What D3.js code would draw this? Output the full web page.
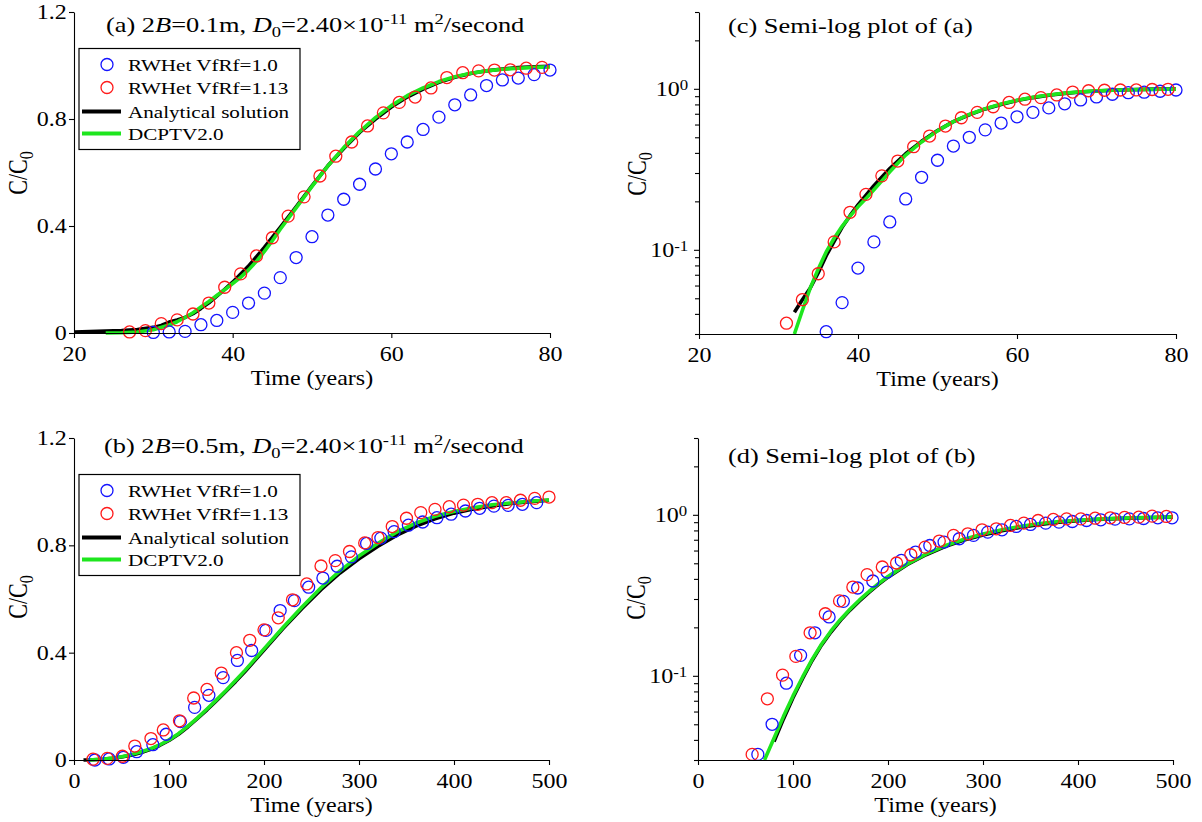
<!DOCTYPE html>
<html>
<head>
<meta charset="utf-8">
<script src="https://cdn.jsdelivr.net/npm/d3@7"></script>
<style>
  body { margin: 0; background: #fff; }
  svg { display: block; font-family: "Liberation Serif", "Times New Roman", serif; }
</style>
</head>
<body>
<svg id="chart" width="1202" height="822"></svg>
<script>
// ---- data: [time (years), C/C0] ----
var blueA = [[30,0.002],[32,0.004],[34,0.006],[36,0.031],[38,0.047],[40,0.077],[42,0.112],[44,0.149],
             [46,0.207],[48,0.282],[50,0.360],[52,0.441],[54,0.500],[56,0.556],[58,0.613],[60,0.670],
             [62,0.714],[64,0.761],[66,0.807],[68,0.853],[70,0.890],[72,0.925],[74,0.946],[76,0.953],
             [78,0.966],[80,0.983]];
var redA = [[27,0.004],[29,0.009],[31,0.035],[33,0.049],[35,0.071],[37,0.112],[39,0.171],[41,0.221],
            [43,0.288],[45,0.356],[47,0.437],[49,0.509],[51,0.587],[53,0.661],[55,0.714],[57,0.774],
            [59,0.823],[61,0.862],[63,0.882],[65,0.916],[67,0.955],[69,0.973],[71,0.980],[73,0.983],
            [75,0.984],[77,0.990],[79,0.993]];
var analyticA = [[20,0.004],[22,0.005],[24,0.007],[26,0.009],[28,0.013],[30,0.021],[31,0.028],[32,0.041],
                 [33,0.049],[34,0.058],[35,0.072],[36,0.092],[37,0.113],[38,0.138],[39,0.163],[40,0.19],
                 [42,0.25],[44,0.32],[46,0.395],[48,0.472],[50,0.55],[52,0.625],[54,0.69],[56,0.75],
                 [58,0.8],[60,0.845],[62,0.882],[64,0.912],[66,0.937],[68,0.956],[70,0.97],[72,0.98],
                 [74,0.987],[76,0.992],[78,0.995],[80,0.997]];
var dcptvA = [[24,0.0],[26,0.001],[28,0.004],[30,0.012],[32,0.03],[33,0.042],[34,0.058],[35,0.076],
              [36,0.097],[37,0.118],[38,0.14],[39,0.162],[40,0.185],[41,0.208],[42,0.236],[43,0.268],
              [44,0.305],[45,0.345],[46,0.388],[48,0.468],[50,0.548],[52,0.625],[54,0.693],[56,0.753],
              [58,0.805],[60,0.85],[62,0.887],[64,0.916],[66,0.94],[68,0.958],[70,0.971],[72,0.98],
              [74,0.986],[76,0.99],[78,0.993],[80,0.995]];

var blueB = [[22,0.0],[37,0.004],[52,0.01],[66,0.031],[83,0.057],[97,0.096],[112,0.143],[127,0.196],
             [142,0.241],[157,0.307],[172,0.371],[187,0.408],[202,0.483],[217,0.557],[232,0.594],
             [247,0.644],[262,0.678],[277,0.722],[292,0.757],[308,0.807],[323,0.827],[337,0.851],
             [352,0.875],[367,0.887],[382,0.903],[397,0.916],[412,0.928],[427,0.938],[442,0.946],
             [457,0.949],[472,0.953],[487,0.959]];
var redB = [[20,0.003],[35,0.006],[51,0.014],[64,0.052],[81,0.08],[94,0.112],[111,0.146],[126,0.231],
            [140,0.263],[155,0.324],[171,0.400],[185,0.446],[200,0.485],[215,0.530],[230,0.597],
            [245,0.656],[260,0.723],[275,0.743],[290,0.777],[306,0.809],[320,0.829],[335,0.870],
            [350,0.901],[365,0.922],[380,0.934],[395,0.944],[410,0.950],[425,0.953],[440,0.959],
            [455,0.959],[470,0.968],[485,0.975],[500,0.980]];
var analyticB = [[10,0.0],[20,0.001],[30,0.003],[40,0.006],[50,0.011],[60,0.018],[70,0.027],[80,0.039],
                 [90,0.054],[100,0.073],[110,0.096],[120,0.124],[130,0.155],[140,0.187],[150,0.221],
                 [160,0.256],[170,0.292],[180,0.33],[190,0.37],[200,0.41],[220,0.49],[240,0.565],
                 [260,0.635],[280,0.697],[300,0.75],[320,0.797],[340,0.838],[360,0.872],[380,0.899],
                 [400,0.92],[420,0.935],[440,0.947],[460,0.956],[480,0.963],[500,0.968]];
var dcptvB = [[14,0.0],[20,0.001],[30,0.003],[40,0.007],[50,0.012],[60,0.02],[70,0.03],[80,0.041],
              [90,0.056],[100,0.075],[110,0.098],[120,0.126],[130,0.157],[140,0.19],[150,0.224],
              [160,0.259],[170,0.296],[180,0.334],[190,0.374],[200,0.414],[220,0.494],[240,0.57],
              [260,0.642],[280,0.705],[300,0.76],[320,0.808],[340,0.85],[360,0.883],[380,0.908],
              [400,0.926],[420,0.94],[440,0.951],[460,0.958],[480,0.964],[500,0.969]];

// the semi-log plot (d) shows its own sampling of the RWHet runs
var blueD = [[63,0.0325],[78,0.050],[93,0.090],[108,0.134],[123,0.185],[138,0.232],[153,0.290],
             [168,0.351],[184,0.388],[199,0.441],[214,0.521],[229,0.587],[244,0.645],[259,0.677],
             [275,0.710],[290,0.745],[305,0.781],[320,0.807],[335,0.847],[350,0.871],[366,0.888],
             [380,0.901],[394,0.909],[409,0.922],[424,0.931],[439,0.940],[454,0.944],[469,0.949],
             [484,0.958],[499,0.958]];
var redD = [[57,0.0325],[73,0.072],[89,0.101],[103,0.132],[118,0.185],[134,0.243],[149,0.292],
            [163,0.356],[178,0.425],[194,0.474],[209,0.502],[224,0.565],[239,0.630],[254,0.687],
            [269,0.745],[284,0.762],[299,0.807],[314,0.819],[329,0.859],[343,0.888],[358,0.922],
            [374,0.936],[388,0.944],[403,0.944],[418,0.953],[434,0.958],[449,0.963],[464,0.967],
            [478,0.981],[493,0.977]];

var seriesNames = ["RWHet VfRf=1.0", "RWHet VfRf=1.13", "Analytical solution", "DCPTV2.0"];
var xTicksA = [20, 40, 60, 80];
var xTicksB = [0, 100, 200, 300, 400, 500];
var linTicks = [0, 0.4, 0.8, 1.2];
var logMajor = [0.1, 1];
var logMinor = [0.03, 0.04, 0.05, 0.06, 0.07, 0.08, 0.09, 0.2, 0.3, 0.4, 0.5, 0.6, 0.7, 0.8, 0.9, 2, 3];

// ---- look ----
var SX = 1.2;            // the figure's lettering is stretched horizontally
var BLUE = "#1414ff", RED = "#ff1a1a", GREEN = "#1ee61e";
var svg = d3.select("#chart");

function richText(g, x, y, size, anchor, parts) {
    var t = g.append("text")
      .attr("transform", "translate(" + x + "," + y + ") scale(" + SX + ",1)")
      .attr("text-anchor", anchor)
      .style("font-size", size + "px")
      .attr("fill", "#000");
    var shift = 0;
    parts.forEach(function(p) {
        var target = p.sub ? size * 0.22 : (p.sup ? -size * 0.38 : 0);
        var ts = t.append("tspan").attr("dy", target - shift).text(p.t);
        shift = target;
        if (p.sub || p.sup) ts.style("font-size", (size * 0.7) + "px");
        if (p.it) ts.style("font-style", "italic");
    });
    return t;
}

function titleParts(letter, width) {
    return [{t: "(" + letter + ") 2"}, {t: "B", it: 1}, {t: "=" + width + "m, "}, {t: "D", it: 1},
            {t: "0", sub: 1}, {t: "=2.40×10"}, {t: "-11", sup: 1}, {t: " m"}, {t: "2", sup: 1},
            {t: "/second"}];
}

var panels = [
    {left: 74, right: 550, top: 12, bottom: 333, xDomain: [20, 80], xTicks: xTicksA, log: false,
     blue: blueA, red: redA, black: analyticA, green: dcptvA, legend: true,
     title: titleParts("a", "0.1"), titleX: 106, titleY: 32, ylabX: 27, ylabY: 173},
    {left: 699, right: 1176, top: 12, bottom: 334, xDomain: [20, 80], xTicks: xTicksA, log: true,
     blue: blueA, red: redA, black: analyticA, green: dcptvA, legend: false,
     title: [{t: "(c) Semi-log plot of (a)"}], titleX: 728, titleY: 33, ylabX: 646, ylabY: 174},
    {left: 74, right: 549, top: 438, bottom: 760, xDomain: [0, 500], xTicks: xTicksB, log: false,
     blue: blueB, red: redB, black: analyticB, green: dcptvB, legend: true,
     title: titleParts("b", "0.5"), titleX: 104, titleY: 453, ylabX: 27, ylabY: 597},
    {left: 698, right: 1173, top: 438, bottom: 760, xDomain: [0, 500], xTicks: xTicksB, log: true,
     blue: blueD, red: redD, black: analyticB, green: dcptvB, legend: false,
     title: [{t: "(d) Semi-log plot of (b)"}], titleX: 728, titleY: 463, ylabX: 645, ylabY: 598}
];

function styleTicks(sel) {
    sel.attr("font-size", 20).attr("font-family", null).attr("fill", "#000")
       .attr("transform", "scale(" + SX + ",1)");
}

function drawPanel(p) {
    var g = svg.append("g");
    var x = d3.scaleLinear().domain(p.xDomain).range([p.left, p.right]);
    var y = p.log
        ? d3.scaleLog().domain([0.03, 3]).range([p.bottom, p.top])
        : d3.scaleLinear().domain([0, 1.2]).range([p.bottom, p.top]);
    var yMin = p.log ? 0.0299 : -1;
    var keep = function(d) { return d[1] >= yMin; };

    // curves
    var line = d3.line()
      .x(function(d) { return x(d[0]); })
      .y(function(d) { return y(d[1]); });

    g.append("path")
      .attr("d", line(p.black.filter(keep)))
      .attr("fill", "none").attr("stroke", "#000").attr("stroke-width", 3.6)
      .attr("stroke-linejoin", "round");
    g.append("path")
      .attr("d", line(p.green.filter(keep)))
      .attr("fill", "none").attr("stroke", GREEN).attr("stroke-width", 3.6)
      .attr("stroke-linejoin", "round");

    // RWHet markers
    [[p.blue, BLUE], [p.red, RED]].forEach(function(s) {
        g.append("g").selectAll("circle")
          .data(s[0].filter(keep))
          .enter().append("circle")
          .attr("cx", function(d) { return x(d[0]); })
          .attr("cy", function(d) { return y(d[1]); })
          .attr("r", 6)
          .attr("fill", "none")
          .attr("stroke", s[1])
          .attr("stroke-width", 1.3);
    });

    // x axis
    var gx = g.append("g")
      .attr("transform", "translate(0," + p.bottom + ")")
      .call(d3.axisBottom(x).tickValues(p.xTicks).tickSize(5).tickSizeOuter(0).tickPadding(9)
              .tickFormat(d3.format("d")))
      .attr("font-family", null).attr("font-size", null);
    styleTicks(gx.selectAll("text"));

    // y axis
    var gy;
    if (p.log) {
        gy = g.append("g")
          .attr("transform", "translate(" + p.left + ",0)")
          .call(d3.axisLeft(y).tickValues(logMajor.concat(logMinor)).tickSize(5).tickSizeOuter(0)
                  .tickPadding(4).tickFormat(function() { return ""; }))
          .attr("font-family", null).attr("font-size", null);
        gy.selectAll(".tick").each(function(d) {
            var tick = d3.select(this);
            if (logMajor.indexOf(d) < 0) {
                tick.select("line").attr("x2", -4);
                tick.select("text").remove();
                return;
            }
            var t = tick.select("text");
            styleTicks(t);
            t.append("tspan").text("10");
            t.append("tspan").attr("dy", "-0.4em").style("font-size", "14px")
              .text(String(Math.round(Math.log10(d))));
        });
    } else {
        gy = g.append("g")
          .attr("transform", "translate(" + p.left + ",0)")
          .call(d3.axisLeft(y).tickValues(linTicks).tickSize(5).tickSizeOuter(0).tickPadding(1)
                  .tickFormat(function(d) { return d === 0 ? "0" : d3.format(".1f")(d); }))
          .attr("font-family", null).attr("font-size", null);
        styleTicks(gy.selectAll("text"));
    }
    g.selectAll(".domain, .tick line").attr("stroke", "#000").attr("stroke-width", 1.1);

    // axis titles
    richText(g, (p.left + p.right) / 2, p.bottom + 52, 20, "middle", [{t: "Time (years)"}]);
    var yl = g.append("text")
      .attr("transform", "translate(" + p.ylabX + "," + p.ylabY + ") rotate(-90) scale(1," + SX + ")")
      .attr("text-anchor", "middle")
      .style("font-size", "22px");
    yl.append("tspan").text("C/C");
    yl.append("tspan").attr("dy", 5).style("font-size", "16px").text("0");

    // panel title
    richText(g, p.titleX, p.titleY, 22, "start", p.title);

    // legend
    if (p.legend) {
        var lg = g.append("g").attr("transform", "translate(79," + (p.top + 36.5) + ")");
        lg.append("rect")
          .attr("width", 221).attr("height", 101)
          .attr("fill", "#fff").attr("stroke", "#000").attr("stroke-width", 1.2);
        var rowY = [16, 39, 63, 85];
        lg.append("circle").attr("cx", 28).attr("cy", rowY[0]).attr("r", 6)
          .attr("fill", "none").attr("stroke", BLUE).attr("stroke-width", 1.3);
        lg.append("circle").attr("cx", 28).attr("cy", rowY[1]).attr("r", 6)
          .attr("fill", "none").attr("stroke", RED).attr("stroke-width", 1.3);
        lg.append("line").attr("x1", 3).attr("x2", 42).attr("y1", rowY[2]).attr("y2", rowY[2])
          .attr("stroke", "#000").attr("stroke-width", 4);
        lg.append("line").attr("x1", 3).attr("x2", 42).attr("y1", rowY[3]).attr("y2", rowY[3])
          .attr("stroke", GREEN).attr("stroke-width", 4);
        seriesNames.forEach(function(name, i) {
            richText(lg, 49, rowY[i] + 6, 17.6, "start", [{t: name}]);
        });
    }
}

panels.forEach(drawPanel);
</script>
</body>
</html>
